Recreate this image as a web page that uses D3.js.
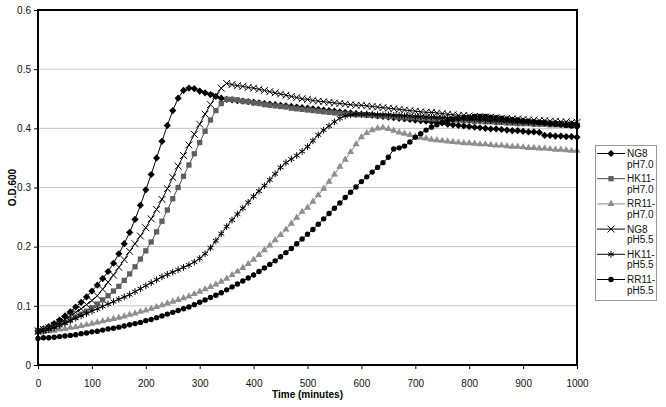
<!DOCTYPE html>
<html>
<head>
<meta charset="utf-8">
<script src="https://cdn.jsdelivr.net/npm/d3@7"></script>
<style>
	body { margin: 0; background: #fff; }
	svg { display: block; font-family: "Liberation Sans", Arial, sans-serif; }
</style>
</head>
<body>
<div id="chart"></div>
<script>
// sampling every 10 minutes, 0..1000
let times = d3.range(0, 1001, 10);

let ng8_70 = [
	0.058, 0.061, 0.065, 0.070, 0.076, 0.083, 0.090, 0.098, 0.106, 0.115,
	0.125, 0.135, 0.146, 0.158, 0.172, 0.188, 0.205, 0.224, 0.246, 0.270,
	0.296, 0.322, 0.350, 0.378, 0.405, 0.430, 0.451, 0.464, 0.468, 0.467,
	0.463, 0.460, 0.457, 0.454, 0.451, 0.449, 0.448, 0.447, 0.446, 0.445,
	0.444, 0.443, 0.442, 0.441, 0.440, 0.439, 0.438, 0.437, 0.436, 0.435,
	0.434, 0.433, 0.432, 0.431, 0.430, 0.429, 0.428, 0.427, 0.426, 0.425,
	0.424, 0.423, 0.422, 0.421, 0.420, 0.419, 0.418, 0.417, 0.416, 0.415,
	0.414, 0.413, 0.412, 0.411, 0.410, 0.409, 0.407, 0.406, 0.405, 0.404,
	0.403, 0.402, 0.401, 0.400, 0.399, 0.399, 0.398, 0.397, 0.396, 0.396,
	0.395, 0.394, 0.394, 0.393, 0.388, 0.388, 0.387, 0.387, 0.386, 0.386,
	0.385
];

let hk11_70 = [
	0.058, 0.060, 0.062, 0.065, 0.068, 0.072, 0.076, 0.081, 0.086, 0.091,
	0.097, 0.103, 0.110, 0.117, 0.125, 0.133, 0.143, 0.154, 0.166, 0.179,
	0.193, 0.208, 0.225, 0.243, 0.262, 0.281, 0.300, 0.319, 0.338, 0.357,
	0.376, 0.395, 0.414, 0.430, 0.442, 0.449, 0.449, 0.448, 0.446, 0.445,
	0.443, 0.442, 0.440, 0.439, 0.438, 0.437, 0.436, 0.434, 0.433, 0.432,
	0.431, 0.430, 0.429, 0.428, 0.427, 0.426, 0.425, 0.424, 0.424, 0.423,
	0.423, 0.422, 0.422, 0.421, 0.421, 0.420, 0.420, 0.419, 0.419, 0.418,
	0.418, 0.417, 0.417, 0.416, 0.416, 0.415, 0.415, 0.414, 0.414, 0.413,
	0.413, 0.412, 0.412, 0.411, 0.411, 0.410, 0.410, 0.409, 0.409, 0.408,
	0.408, 0.408, 0.407, 0.407, 0.407, 0.406, 0.406, 0.406, 0.405, 0.405,
	0.405
];

let rr11_70 = [
	0.055, 0.056, 0.057, 0.058, 0.060, 0.061, 0.063, 0.064, 0.066, 0.068,
	0.070, 0.072, 0.074, 0.076, 0.078, 0.080, 0.082, 0.085, 0.087, 0.090,
	0.092, 0.095, 0.098, 0.101, 0.104, 0.107, 0.110, 0.113, 0.116, 0.120,
	0.124, 0.128, 0.132, 0.136, 0.141, 0.146, 0.152, 0.158, 0.164, 0.171,
	0.178, 0.186, 0.194, 0.202, 0.211, 0.220, 0.229, 0.239, 0.249, 0.259,
	0.266, 0.276, 0.287, 0.298, 0.310, 0.322, 0.335, 0.347, 0.360, 0.373,
	0.385, 0.392, 0.397, 0.400, 0.401, 0.399, 0.396, 0.393, 0.391, 0.389,
	0.386, 0.384, 0.383, 0.381, 0.380, 0.379, 0.378, 0.377, 0.376, 0.375,
	0.375, 0.374, 0.373, 0.373, 0.372, 0.371, 0.371, 0.370, 0.369, 0.369,
	0.368, 0.367, 0.367, 0.366, 0.366, 0.365, 0.364, 0.364, 0.363, 0.362,
	0.362
];

let ng8_55 = [
	0.058, 0.060, 0.063, 0.067, 0.072, 0.077, 0.083, 0.089, 0.095, 0.102,
	0.109, 0.117, 0.128, 0.140, 0.152, 0.165, 0.178, 0.192, 0.205, 0.218,
	0.232, 0.247, 0.263, 0.280, 0.298, 0.317, 0.336, 0.354, 0.372, 0.390,
	0.407, 0.424, 0.440, 0.455, 0.468, 0.476, 0.474, 0.472, 0.471, 0.469,
	0.468, 0.466, 0.464, 0.462, 0.460, 0.458, 0.456, 0.454, 0.452, 0.450,
	0.449, 0.447, 0.446, 0.445, 0.444, 0.443, 0.442, 0.441, 0.440, 0.439,
	0.439, 0.438, 0.437, 0.436, 0.435, 0.434, 0.433, 0.432, 0.431, 0.430,
	0.429, 0.428, 0.427, 0.427, 0.426, 0.425, 0.424, 0.423, 0.422, 0.422,
	0.421, 0.420, 0.420, 0.419, 0.419, 0.418, 0.417, 0.417, 0.416, 0.416,
	0.415, 0.414, 0.414, 0.413, 0.413, 0.412, 0.412, 0.411, 0.411, 0.410,
	0.410
];

let hk11_55 = [
	0.055, 0.057, 0.060, 0.063, 0.067, 0.071, 0.075, 0.079, 0.083, 0.087,
	0.091, 0.095, 0.099, 0.103, 0.107, 0.111, 0.115, 0.119, 0.124, 0.129,
	0.134, 0.139, 0.144, 0.149, 0.153, 0.157, 0.161, 0.165, 0.169, 0.174,
	0.180, 0.188, 0.198, 0.210, 0.222, 0.234, 0.245, 0.255, 0.265, 0.275,
	0.285, 0.294, 0.303, 0.313, 0.323, 0.334, 0.342, 0.348, 0.354, 0.361,
	0.369, 0.379, 0.389, 0.397, 0.404, 0.411, 0.417, 0.421, 0.423, 0.424,
	0.424, 0.424, 0.424, 0.423, 0.423, 0.423, 0.422, 0.422, 0.421, 0.421,
	0.420, 0.420, 0.419, 0.419, 0.418, 0.418, 0.417, 0.417, 0.416, 0.416,
	0.415, 0.415, 0.414, 0.414, 0.413, 0.413, 0.412, 0.412, 0.411, 0.411,
	0.410, 0.410, 0.409, 0.409, 0.409, 0.408, 0.408, 0.407, 0.407, 0.407,
	0.406
];

let rr11_55 = [
	0.045, 0.046, 0.046, 0.047, 0.048, 0.049, 0.050, 0.051, 0.053, 0.054,
	0.056, 0.057, 0.059, 0.061, 0.062, 0.064, 0.066, 0.068, 0.070, 0.072,
	0.075, 0.077, 0.080, 0.083, 0.086, 0.089, 0.092, 0.095, 0.098, 0.102,
	0.106, 0.110, 0.114, 0.118, 0.122, 0.127, 0.132, 0.137, 0.142, 0.147,
	0.152, 0.158, 0.164, 0.170, 0.176, 0.183, 0.190, 0.197, 0.205, 0.213,
	0.221, 0.229, 0.238, 0.247, 0.256, 0.265, 0.274, 0.283, 0.292, 0.301,
	0.310, 0.318, 0.326, 0.334, 0.342, 0.351, 0.365, 0.367, 0.370, 0.377,
	0.385, 0.391, 0.397, 0.402, 0.406, 0.410, 0.413, 0.415, 0.417, 0.418,
	0.419, 0.420, 0.420, 0.420, 0.419, 0.418, 0.417, 0.416, 0.415, 0.414,
	0.413, 0.412, 0.411, 0.410, 0.409, 0.408, 0.407, 0.406, 0.405, 0.404,
	0.403
];

let seriesNames = [["NG8", "pH7.0"], ["HK11-", "pH7.0"], ["RR11-", "pH7.0"],
	["NG8", "pH5.5"], ["HK11-", "pH5.5"], ["RR11-", "pH5.5"]];
let seriesValues = [ng8_70, hk11_70, rr11_70, ng8_55, hk11_55, rr11_55];

let xTicks = d3.range(0, 1001, 100);
let yTicks = [0, 0.1, 0.2, 0.3, 0.4, 0.5, 0.6];

// excel style diamond: a square turned 45 degrees
let diamondType = {
	draw(context, size) {
		let r = Math.sqrt(size / 2);
		context.moveTo(0, -r);
		context.lineTo(r, 0);
		context.lineTo(0, r);
		context.lineTo(-r, 0);
		context.closePath();
	}
};

let styles = [
	{ type: diamondType, size: 26, fill: "#000", stroke: "none", line: "#000" },
	{ type: d3.symbolSquare, size: 28, fill: "#5e5e5e", stroke: "none", line: "#4a4a4a" },
	{ type: d3.symbolTriangle, size: 22, fill: "#8e8e8e", stroke: "none", line: "#8a8a8a" },
	{ type: d3.symbolTimes || d3.symbolCross, size: 32, fill: "none", stroke: "#000", line: "#000" },
	{ type: d3.symbolAsterisk || d3.symbolCross, size: 32, fill: "none", stroke: "#000", line: "#000" },
	{ type: d3.symbolCircle, size: 23, fill: "#000", stroke: "none", line: "#000" }
];

let width = 666, height = 407;
let plot = { left: 38, right: 577, top: 10, bottom: 365 };

let svg = d3.select("#chart").append("svg")
	.attr("width", width)
	.attr("height", height);

let x = d3.scaleLinear().domain([0, 1000]).range([plot.left, plot.right]);
let y = d3.scaleLinear().domain([0, 0.6]).range([plot.bottom, plot.top]);

// gridlines
svg.append("g")
	.selectAll("line")
	.data(yTicks.filter(d => d > 0 && d < 0.6))
	.join("line")
	.attr("x1", plot.left)
	.attr("x2", plot.right)
	.attr("y1", d => y(d))
	.attr("y2", d => y(d))
	.attr("stroke", "#c4c4c4")
	.attr("stroke-width", 1);

// series
let line = d3.line()
	.x((d, i) => x(times[i]))
	.y(d => y(d));

seriesValues.forEach((vals, k) => {
	let st = styles[k];
	let g = svg.append("g");
	g.append("path")
		.attr("d", line(vals))
		.attr("fill", "none")
		.attr("stroke", st.line)
		.attr("stroke-width", 1);
	g.selectAll("path.m")
		.data(vals)
		.join("path")
		.classed("m", true)
		.attr("transform", (d, i) => `translate(${x(times[i])},${y(d)})`)
		.attr("d", d3.symbol().type(st.type).size(st.size))
		.attr("fill", st.fill)
		.attr("stroke", st.stroke)
		.attr("stroke-width", 1);
});

// frame
svg.append("rect")
	.attr("x", plot.left)
	.attr("y", plot.top)
	.attr("width", plot.right - plot.left)
	.attr("height", plot.bottom - plot.top)
	.attr("fill", "none")
	.attr("stroke", "#000")
	.attr("stroke-width", 2);

// axes
let xAxis = svg.append("g")
	.attr("transform", `translate(0,${plot.bottom})`)
	.call(d3.axisBottom(x).tickValues(xTicks).tickFormat(d3.format("d")).tickSize(4).tickSizeOuter(0).tickPadding(11));
let yAxis = svg.append("g")
	.attr("transform", `translate(${plot.left},0)`)
	.call(d3.axisLeft(y).tickValues(yTicks).tickFormat(d3.format("")).tickSize(4).tickSizeOuter(0).tickPadding(3));

for (let ax of [xAxis, yAxis]) {
	ax.select(".domain").remove();
	ax.selectAll("text")
		.attr("font-size", 10)
		.attr("font-family", "Liberation Sans, Arial, sans-serif")
		.attr("fill", "#111");
	ax.selectAll("line").attr("stroke", "#000");
}

svg.append("text")
	.attr("x", (plot.left + plot.right) / 2)
	.attr("y", 398)
	.attr("text-anchor", "middle")
	.attr("font-size", 10)
	.attr("font-weight", "bold")
	.text("Time (minutes)");

svg.append("text")
	.attr("transform", `translate(16,${(plot.top + plot.bottom) / 2}) rotate(-90)`)
	.attr("text-anchor", "middle")
	.attr("font-size", 10)
	.attr("font-weight", "bold")
	.text("O.D.600");

// legend
let legend = svg.append("g");
legend.append("rect")
	.attr("x", 595.5)
	.attr("y", 145.5)
	.attr("width", 61)
	.attr("height", 155)
	.attr("fill", "#fff")
	.attr("stroke", "#999")
	.attr("stroke-width", 1);

seriesNames.forEach((name, k) => {
	let st = styles[k];
	let cy = 153.5 + k * 25.2;
	let item = legend.append("g");
	item.append("line")
		.attr("x1", 597)
		.attr("x2", 625)
		.attr("y1", cy)
		.attr("y2", cy)
		.attr("stroke", st.line)
		.attr("stroke-width", 1);
	item.append("path")
		.attr("transform", `translate(611,${cy})`)
		.attr("d", d3.symbol().type(st.type).size(st.size))
		.attr("fill", st.fill)
		.attr("stroke", st.stroke);
	item.append("text")
		.attr("x", 627)
		.attr("y", cy + 3.5)
		.attr("font-size", 10)
		.attr("fill", "#111")
		.text(name[0]);
	item.append("text")
		.attr("x", 627)
		.attr("y", cy + 14)
		.attr("font-size", 10)
		.attr("fill", "#111")
		.text(name[1]);
});
</script>
</body>
</html>
